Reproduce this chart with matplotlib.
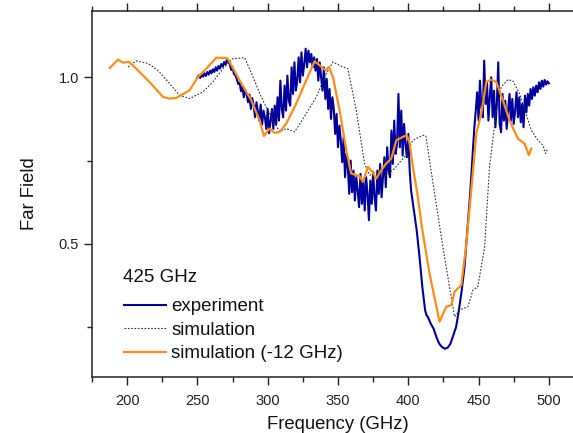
import matplotlib
matplotlib.use("Agg")
import matplotlib.pyplot as plt
from matplotlib.ticker import MultipleLocator

plt.rcParams['font.family'] = ['Liberation Sans', 'DejaVu Sans']

# ---- data ----
exp_freq = [250, 251, 252, 253, 254, 255, 256, 257, 258, 259, 260, 261, 262, 263, 264, 265, 266, 267, 268, 269,
            270, 271, 272, 273, 274, 275, 276, 277, 278, 279, 280, 281, 282, 283, 284, 285, 286, 287, 288, 289,
            290, 291, 292, 293, 294, 295, 296, 297, 298, 299, 300, 301, 302, 303, 304, 305, 306, 307, 308, 309,
            310, 311, 312, 313, 314, 315, 316, 317, 318, 319, 320, 321, 322, 323, 324, 325, 326, 327, 328, 329,
            330, 331, 332, 333, 334, 335, 336, 337, 338, 339, 340, 341, 342, 343, 344, 345, 346, 347, 348, 349,
            350, 351, 352, 353, 354, 355, 356, 357, 358, 359, 360, 361, 362, 363, 364, 365, 366, 367, 368, 369,
            370, 371, 372, 373, 374, 375, 376, 377, 378, 379, 380, 381, 382, 383, 384, 385, 386, 387, 388, 389,
            390, 391, 392, 393, 394, 395, 396, 397, 398, 399, 400, 401, 402, 403, 404, 406, 408, 410, 412, 413,
            414, 416, 418, 420, 422, 424, 426, 428, 430, 432, 434, 436, 438, 440, 442, 444, 446, 447, 448, 449,
            450, 451, 452, 453, 454, 455, 456, 457, 458, 459, 460, 461, 462, 463, 464, 465, 466, 467, 468, 469,
            470, 471, 472, 473, 474, 475, 476, 477, 478, 479, 480, 481, 482, 483, 484, 485, 486, 487, 488, 489,
            490, 491, 492, 493, 494, 495, 496, 497, 498, 499, 500]
exp_far = [1.000, 1.006, 0.998, 1.008, 1.002, 1.012, 1.004, 1.016, 1.008, 1.020, 1.012, 1.024, 1.016, 1.030, 1.020,
           1.034, 1.026, 1.040, 1.032, 1.046, 1.038, 1.054, 1.046,
           # 273-305
           1.040, 1.022, 1.030, 1.010, 1.006, 0.995, 0.980, 0.985, 0.958, 0.972, 0.940, 0.962, 0.950, 0.925, 0.948,
           0.905, 0.938, 0.915, 0.880, 0.925, 0.898, 0.870, 0.918, 0.858, 0.900, 0.880, 0.845, 0.905, 0.832, 0.870,
           0.905, 0.845, 0.915,
           # 306-335
           0.858, 0.940, 0.870, 0.990, 0.905, 0.880, 0.975, 0.900, 1.005, 0.930, 0.915, 1.030, 0.950, 1.045, 0.960,
           0.990, 1.060, 0.985, 1.075, 1.005, 1.040, 1.086, 1.030, 1.080, 1.045, 1.070, 1.030, 1.060, 1.020, 1.055,
           # 336-402
           0.990, 1.045, 1.000, 0.960, 1.030, 0.935, 0.995, 0.905, 0.965, 0.875, 0.940, 0.905, 0.830, 0.890, 0.790,
           0.855, 0.810, 0.745, 0.820, 0.700, 0.770, 0.730, 0.650, 0.750, 0.655, 0.720, 0.630, 0.700, 0.660, 0.610,
           0.710, 0.620, 0.690, 0.600, 0.700, 0.650, 0.571, 0.690, 0.620, 0.715, 0.640, 0.600, 0.720, 0.650, 0.740,
           0.640, 0.700, 0.760, 0.670, 0.790, 0.720, 0.700, 0.840, 0.740, 0.870, 0.770, 0.800, 0.950, 0.790, 0.900,
           0.765, 0.860, 0.800, 0.760, 0.830, 0.720, 0.660,
           # 403-447
           0.630, 0.600, 0.540, 0.460, 0.370, 0.300, 0.285, 0.280, 0.260, 0.245, 0.220, 0.200, 0.190, 0.185, 0.188,
           0.200, 0.225, 0.250, 0.300, 0.360, 0.430, 0.540, 0.650, 0.780, 0.850,
           # 448-500
           0.900, 0.955, 0.870, 0.990, 0.910, 0.880, 1.050, 0.920, 0.985, 0.870, 0.940, 1.000, 0.880, 0.960, 0.850,
           0.920, 1.045, 0.860, 0.835, 0.950, 0.870, 0.930, 0.845, 0.900, 0.950, 0.870, 0.935, 0.860, 0.900, 0.955,
           0.880, 0.940, 0.865, 0.920, 0.850, 0.945, 0.895, 0.950, 0.915, 0.965, 0.935, 0.970, 0.945, 0.975, 0.955,
           0.985, 0.965, 0.990, 0.972, 0.992, 0.978, 0.988, 0.982]

sim_freq = [200.6, 206.5, 213.7, 217.0, 223.0, 230.2, 237.3, 244.4, 253.9, 261.0, 268.1, 275.2, 283.6, 289.5,
            295.4, 301.3, 308.5, 313.2, 319.1, 327.4, 334.6, 341.7, 346.4, 353.5, 357.0, 363.0, 368.9, 372.5,
            378.4, 384.3, 390.2, 397.3, 403.3, 410.4, 412.5, 415.1, 418.7, 424.6, 432.9, 436.5, 442.4, 446.0,
            449.5, 454.3, 457.8, 462.6, 466.1, 470.9, 474.4, 479.2, 482.7, 487.5, 492.2, 495.8, 497.6, 499.2]
sim_far = [1.031, 1.049, 1.043, 1.036, 1.016, 0.981, 0.946, 0.936, 0.956, 0.986, 1.026, 1.056, 1.059, 1.001,
           0.941, 0.891, 0.836, 0.846, 0.836, 0.891, 0.941, 1.011, 1.046, 1.031, 1.026, 0.901, 0.741, 0.706,
           0.716, 0.706, 0.726, 0.761, 0.811, 0.826, 0.824, 0.751, 0.651, 0.491, 0.281, 0.301, 0.311, 0.361,
           0.371, 0.491, 0.731, 0.901, 0.971, 0.993, 0.989, 0.951, 0.906, 0.841, 0.811, 0.796, 0.771, 0.786]

shift_freq = [187.6, 193.5, 197.0, 201.3, 204.0, 210.0, 217.0, 225.5, 230.0, 235.0, 244.4, 250.4, 256.3, 263.4,
              270.5, 272.0, 280.0, 288.3, 294.2, 297.3, 301.3, 304.9, 308.5, 313.2, 320.3, 327.4, 333.3, 336.9,
              341.2, 343.5, 346.4, 351.1, 355.9, 359.4, 365.4, 367.7, 371.3, 374.4, 377.2, 380.8, 384.3, 387.9,
              391.5, 396.2, 399.0, 401.0, 403.3, 406.8, 410.0, 415.1, 422.2, 427.0, 430.6, 432.9, 437.7, 441.2,
              444.8, 448.4, 451.9, 455.5, 459.0, 462.6, 467.3, 472.0, 477.9, 482.7, 485.8, 487.5]
shift_far = [1.028, 1.053, 1.044, 1.046, 1.036, 1.011, 0.981, 0.941, 0.936, 0.938, 0.961, 1.001, 1.026, 1.059,
             1.058, 1.053, 0.991, 0.931, 0.871, 0.824, 0.846, 0.833, 0.836, 0.861, 0.921, 0.991, 1.048, 1.036,
             1.021, 1.031, 1.001, 0.901, 0.781, 0.711, 0.703, 0.686, 0.731, 0.716, 0.696, 0.721, 0.741, 0.756,
             0.811, 0.821, 0.826, 0.801, 0.731, 0.641, 0.541, 0.411, 0.266, 0.311, 0.316, 0.356, 0.376, 0.496,
             0.661, 0.831, 0.891, 0.986, 0.993, 0.986, 0.931, 0.871, 0.816, 0.801, 0.766, 0.786]

legend_title = "425 GHz"
series_labels = ["experiment", "simulation", "simulation (-12 GHz)"]

# ---- figure ----
W, H = 573, 433
fig = plt.figure(figsize=(W / 100, H / 100), dpi=100)
ax = fig.add_axes([92 / W, 1 - 377 / H, (584 - 92) / W, (377 - 10.7) / H])

l1, = ax.plot(exp_freq, exp_far, color='#00009e', lw=1.5, zorder=2)
l2, = ax.plot(sim_freq, sim_far, color='#333333', lw=0.8, ls=(0, (1.5, 1.5)), zorder=3)
l3, = ax.plot(shift_freq, shift_far, color='#ff8c14', lw=1.6, zorder=4)

ax.set_xlim(175, 525)
ax.set_ylim(0.1, 1.2)
ax.xaxis.set_major_locator(MultipleLocator(50))
ax.xaxis.set_minor_locator(MultipleLocator(25))
ax.yaxis.set_major_locator(MultipleLocator(0.5))
ax.yaxis.set_minor_locator(MultipleLocator(0.25))
ax.tick_params(which='both', direction='out', top=True, right=False, color='#222222', width=1)
ax.tick_params(which='major', length=6, labelsize=10.5, labelcolor='#222222')
ax.tick_params(which='minor', length=3.5)
ax.tick_params(axis='x', pad=6)
ax.set_xticks([200, 250, 300, 350, 400, 450, 500])
ax.set_yticks([0.5, 1.0])
ax.set_yticklabels(['0.5', '1.0'])
for s in ax.spines.values():
    s.set_linewidth(1.1)
    s.set_color('#222222')
ax.spines['right'].set_visible(False)

ax.set_xlabel("Frequency (GHz)", fontsize=13.3, color='#111111', labelpad=6)
ax.set_ylabel("Far Field", fontsize=13.3, color='#111111', labelpad=15)

ax.text(0.063, 0.273, legend_title, transform=ax.transAxes, fontsize=13.5,
        color='#111111', ha='left', va='center')
leg = ax.legend([l1, l2, l3], series_labels, loc='lower left',
                bbox_to_anchor=(0.045, 0.0145), frameon=False, fontsize=13.5,
                handlelength=2.25, handletextpad=0.3, labelspacing=0.34, borderpad=0.0)
for t in leg.get_texts():
    t.set_color('#111111')

fig.savefig("out.png", dpi=100)
